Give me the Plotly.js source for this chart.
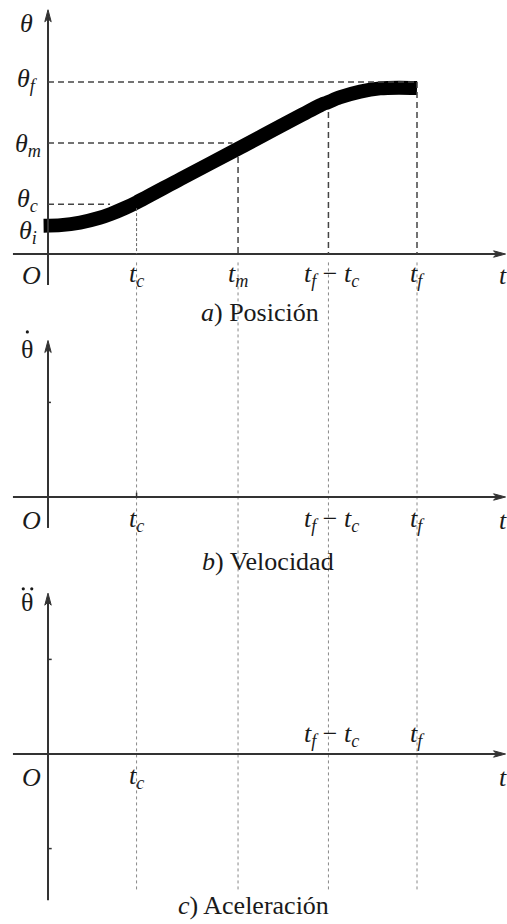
<!DOCTYPE html>
<html>
<head>
<meta charset="utf-8">
<script src="https://cdn.plot.ly/plotly-3.0.1.min.js"></script>
<style>
  html, body { margin: 0; padding: 0; background: #fff; }
  #chart { width: 507px; height: 924px; }
</style>
</head>
<body>
<div id="chart"></div>
<script>
// time marks on the t axis: t_c, t_m, t_f - t_c, t_f
var tC = 2.4, tM = 5.15, tFc = 7.6, tF = 10.0;
// position levels
var thetaI = 1.6, thetaC = 2.9, thetaM = 6.45, thetaF = 10.0;
// small ticks on the velocity / acceleration axes
var velTick = 5.5, accTick = 5.5;

// position curve
var tCurve     = [-0.12, 0.35, 0.87, 1.40, 1.70, 2.10, 2.40, 3.60, 5.15, 7.45, 7.56, 7.90, 8.46, 9.00, 9.50, 10.0];
var thetaCurve = [ 1.65, 1.68, 1.83, 2.11, 2.33, 2.69, 3.00, 4.37, 6.12, 8.72, 8.80, 9.10, 9.44, 9.63, 9.67, 9.65];

var FONT = '"Liberation Serif", "Times New Roman", serif';
var AX = '#333';
var FS = 26;
// data units per screen pixel (x: t axis, y: every panel)
var PX = 1 / 36.9, PY = 1 / 17.2;

var data = [
    {x: tCurve, y: thetaCurve, xaxis: 'x', yaxis: 'y', mode: 'lines',
        line: {color: '#000', width: 14, shape: 'spline', smoothing: 0.7}, hoverinfo: 'skip'},
    {x: [0], y: [0], xaxis: 'x', yaxis: 'y2', mode: 'markers', marker: {opacity: 0}, hoverinfo: 'skip'},
    {x: [0], y: [0], xaxis: 'x', yaxis: 'y3', mode: 'markers', marker: {opacity: 0}, hoverinfo: 'skip'}
];

function seg(yref, x0, y0, x1, y1, dash, width, color){
    return {type: 'line', xref: 'x', yref: yref, x0: x0, y0: y0, x1: x1, y1: y1,
        line: {color: color || '#444', width: width || 1.5, dash: dash || 'dash'}};
}
// axis line plus a narrow arrow head
function axisPair(yref, xMin, xMax, yMin, yMax){
    var L = 12, W = 3.2, N = 9;
    var headX = 'M' + xMax + ',0 L' + (xMax - L * PX) + ',' + (W * PY) + ' L' + (xMax - N * PX) + ',0 L' +
        (xMax - L * PX) + ',' + (-W * PY) + ' Z';
    var headY = 'M0,' + yMax + ' L' + (-W * PX) + ',' + (yMax - L * PY) + ' L0,' + (yMax - N * PY) + ' L' +
        (W * PX) + ',' + (yMax - L * PY) + ' Z';
    var head = {type: 'path', xref: 'x', yref: yref, fillcolor: AX, line: {color: AX, width: 1}};
    return [
        seg(yref, xMin, 0, xMax - 6 * PX, 0, 'solid', 2, AX),
        seg(yref, 0, yMin, 0, yMax - 6 * PY, 'solid', 2, AX),
        Object.assign({path: headX}, head),
        Object.assign({path: headY}, head)
    ];
}
// derivative dot above a symbol
function dot(yref, x, y){
    var r = 1.6;
    return {type: 'circle', xref: 'x', yref: yref, x0: x - r * PX, x1: x + r * PX, y0: y - r * PY, y1: y + r * PY,
        fillcolor: '#1a1a1a', line: {width: 0}};
}

var shapes = [].concat(
    axisPair('y', -0.95, 12.4, -1.8, 14.2),
    axisPair('y2', -0.95, 12.4, -1.8, 9.1),
    axisPair('y3', -0.95, 12.4, -8.5, 9.35),
    [
        // horizontal guides in the position plot
        seg('y', 0, thetaF, tF, thetaF, '6px,4px'),
        seg('y', 0, thetaM, 5.0, thetaM, '6px,4px'),
        seg('y', 0, thetaC, 1.68, thetaC, '6px,4px'),
        // vertical guides down to the t axis
        seg('y', tC, 2.67, tC, 0, '3px,2px', 1, '#666'),
        seg('y', tM, 5.64, tM, 0, '6px,4px'),
        seg('y', tFc, 8.26, tFc, 0, '6px,4px'),
        seg('y', tF, thetaF, tF, 0, '6px,4px'),
        // small ticks
        seg('y2', 0, velTick, 0.08, velTick, 'solid', 1.5, AX),
        seg('y3', 0, accTick, 0.1, accTick, 'solid', 1.5, AX),
        seg('y3', 0, -accTick, 0.1, -accTick, 'solid', 1.5, AX),
        seg('y2', tC, 0, tC, 0.25, 'solid', 1.5, AX),
        // dots of the derivative symbols
        dot('y2', -0.56, 9.6),
        dot('y3', -0.67, 9.6),
        dot('y3', -0.44, 9.6)
    ]
);
// dotted lines through all three plots
[tC, tM, tFc, tF].forEach(function(t){
    shapes.push({type: 'line', xref: 'x', yref: 'paper', x0: t, x1: t, y0: 0.716, y1: 0.035,
        layer: 'below', line: {color: '#888', width: 1, dash: 'dot'}});
});

function lab(text, x, yref, y, yanchor){
    return {xref: 'x', yref: yref, x: x, y: y, text: text, showarrow: false,
        xanchor: 'center', yanchor: yanchor || 'middle', font: {family: FONT, size: FS, color: '#1a1a1a'}};
}
var it = function(s){ return '<i>' + s + '</i>'; };
var th = function(sub){ return it('θ<sub>' + sub + '</sub>'); };
var tt = function(sub){ return it('t<sub>' + sub + '</sub>'); };
var tfc = tt('f') + ' − ' + tt('c');

var annotations = [
    // a) position
    lab(it('θ'), -0.57, 'y', 13.43),
    lab(th('f'), -0.55, 'y', 10.1),
    lab(th('m'), -0.55, 'y', 6.34),
    lab(th('c'), -0.55, 'y', 3.14),
    lab(th('i'), -0.55, 'y', 1.28),
    lab(it('O'), -0.46, 'y', -1.22),
    lab(tt('c'), tC, 'y', -1.22),
    lab(tt('m'), tM, 'y', -1.22),
    lab(tfc, tFc + 0.08, 'y', -1.22),
    lab(tt('f'), tF, 'y', -1.22),
    lab(it('t'), 12.33, 'y', -1.22),
    lab(it('a') + ') Posición', 5.75, 'paper', 0.6623),

    // b) velocity
    lab('θ', -0.57, 'y2', 8.6),
    lab(it('O'), -0.46, 'y2', -1.34),
    lab(tt('c'), tC, 'y2', -1.34),
    lab(tfc, tFc + 0.08, 'y2', -1.34),
    lab(tt('f'), tF, 'y2', -1.34),
    lab(it('t'), 12.33, 'y2', -1.34),
    lab(it('b') + ') Velocidad', 5.96, 'paper', 0.3918),

    // c) acceleration
    lab('θ', -0.57, 'y3', 8.78),
    lab(it('O'), -0.46, 'y3', -1.34),
    lab(tt('c'), tC, 'y3', -1.34),
    lab(tfc, tFc + 0.08, 'y3', 1.1),
    lab(tt('f'), tF, 'y3', 1.1),
    lab(it('t'), 12.33, 'y3', -1.34),
    lab(it('c') + ') Aceleración', 5.58, 'paper', 0.002, 'bottom')
];

var hidden = {visible: false, fixedrange: true};
var layout = {
    width: 507, height: 924,
    margin: {l: 0, r: 0, t: 0, b: 0},
    paper_bgcolor: '#fff', plot_bgcolor: '#fff',
    showlegend: false,
    xaxis: Object.assign({domain: [0, 1], range: [-1.301, 12.439], anchor: 'y'}, hidden),
    yaxis: Object.assign({domain: [0.6753, 1], range: [-2.674, 14.767], anchor: 'x'}, hidden),
    yaxis2: Object.assign({domain: [0.3723, 0.6753], range: [-4.826, 11.453], anchor: 'x'}, hidden),
    yaxis3: Object.assign({domain: [0, 0.3723], range: [-9.884, 10.116], anchor: 'x'}, hidden),
    shapes: shapes,
    annotations: annotations
};

Plotly.newPlot('chart', data, layout, {displayModeBar: false, staticPlot: true});
</script>
</body>
</html>
